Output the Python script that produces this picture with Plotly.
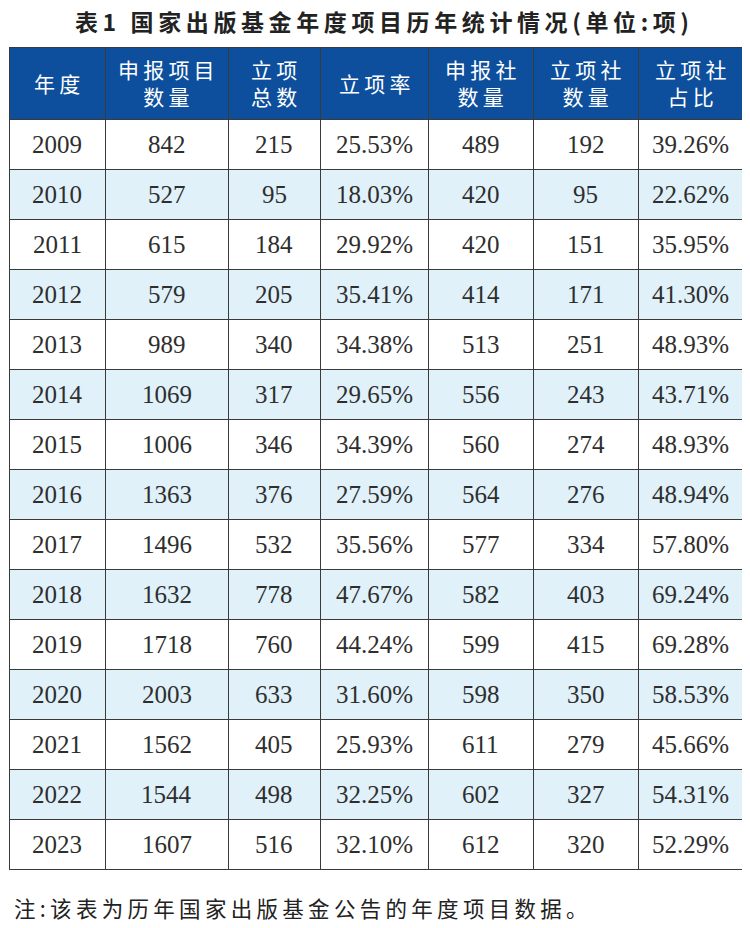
import plotly.graph_objects as go

# 表1 国家出版基金年度项目历年统计情况
years = [2009, 2010, 2011, 2012, 2013, 2014, 2015, 2016, 2017, 2018, 2019, 2020, 2021, 2022, 2023]
applied_projects = [842, 527, 615, 579, 989, 1069, 1006, 1363, 1496, 1632, 1718, 2003, 1562, 1544, 1607]
approved_total = [215, 95, 184, 205, 340, 317, 346, 376, 532, 778, 760, 633, 405, 498, 516]
approval_rate = [25.53, 18.03, 29.92, 35.41, 34.38, 29.65, 34.39, 27.59, 35.56, 47.67, 44.24, 31.60, 25.93, 32.25, 32.10]
applied_publishers = [489, 420, 420, 414, 513, 556, 560, 564, 577, 582, 599, 598, 611, 602, 612]
approved_publishers = [192, 95, 151, 171, 251, 243, 274, 276, 334, 403, 415, 350, 279, 327, 320]
publisher_ratio = [39.26, 22.62, 35.95, 41.30, 48.93, 43.71, 48.93, 48.94, 57.80, 69.24, 69.28, 58.53, 45.66, 54.31, 52.29]

headers = [["年度"], ["申报项目", "数量"], ["立项", "总数"], ["立项率"],
           ["申报社", "数量"], ["立项社", "数量"], ["立项社", "占比"]]
col_widths = [96, 123, 92, 108, 105, 105, 105]

title = "表1 国家出版基金年度项目历年统计情况(单位:项)"
note = "注:该表为历年国家出版基金公告的年度项目数据。"

HEADER_BLUE = "#0d4f9c"
STRIPE = "#e0f1fa"
LINE = "#3a3a3a"
TEXT = "#2e2e2e"
THIN = "\u2009"
HEADER_H = 72
ROW_H = 50

# page body has an 8px margin, so pull the figure back by that much
W, H = 750, 928
ML, MR, MT, MB = 1, 15, 39, 50
PW, PH = W - ML - MR, H - MT - MB


def spaced(s):
    return THIN.join(s)


n_rows = len(years)
row_colors = ["white" if i % 2 == 0 else STRIPE for i in range(n_rows)]

columns = [years, applied_projects, approved_total,
           [f"{v:.2f}%" for v in approval_rate],
           applied_publishers, approved_publishers,
           [f"{v:.2f}%" for v in publisher_ratio]]

# the table draws the grid and fills; the numbers go on top as annotations
# on hidden axes so they sit in the vertical middle of each row
fig = go.Figure(go.Table(
    columnwidth=col_widths,
    header=dict(
        values=[""] * len(headers),
        fill_color=HEADER_BLUE,
        line=dict(color=LINE, width=1),
        height=HEADER_H,
    ),
    cells=dict(
        values=[[""] * n_rows for _ in columns],
        fill_color=[row_colors] * 7,
        line=dict(color=LINE, width=1),
        height=ROW_H,
    ),
    domain=dict(x=[0, 1], y=[0, 1]),
))

total_w = sum(col_widths)
centers = []
left = 0
for w in col_widths:
    centers.append(left + w / 2)
    left += w

for cx, col in zip(centers, columns):
    for i, v in enumerate(col):
        fig.add_annotation(text=str(v), x=cx, y=i, xref="x", yref="y",
                           xanchor="center", yanchor="middle", showarrow=False,
                           font=dict(family="Liberation Serif", size=25, color=TEXT))

# header labels, centred in each header cell (two lines where needed)
for lines, cx in zip(headers, centers):
    fig.add_annotation(text="<br>".join(spaced(l) for l in lines),
                       x=cx / total_w, y=1 - (HEADER_H / 2) / PH,
                       xref="paper", yref="paper", xanchor="center", yanchor="middle",
                       align="center", showarrow=False,
                       font=dict(family="Noto Sans CJK SC", size=21, color="white"))

fig.add_annotation(text=spaced(title), x=(382 - 8 - ML) / PW, y=1 + (MT - 13) / PH,
                   xref="paper", yref="paper", xanchor="center", yanchor="middle",
                   showarrow=False,
                   font=dict(family="Noto Sans CJK SC", size=23, color="#222222", weight="bold"))
fig.add_annotation(text=spaced(note), x=(12 - 8 - ML) / PW, y=-(899 - (H - MB)) / PH,
                   xref="paper", yref="paper", xanchor="left", yanchor="middle",
                   showarrow=False,
                   font=dict(family="Noto Sans CJK SC", size=21.5, color="#222222"))

y_top = -0.5 - HEADER_H / ROW_H
fig.update_layout(
    width=W, height=H,
    margin=dict(l=ML, r=MR, t=MT, b=MB),
    paper_bgcolor="white",
    plot_bgcolor="rgba(0,0,0,0)",
    xaxis=dict(range=[0, total_w], visible=False, fixedrange=True),
    yaxis=dict(range=[y_top + PH / ROW_H, y_top], visible=False, fixedrange=True),
)

fig.write_html("out.html")
